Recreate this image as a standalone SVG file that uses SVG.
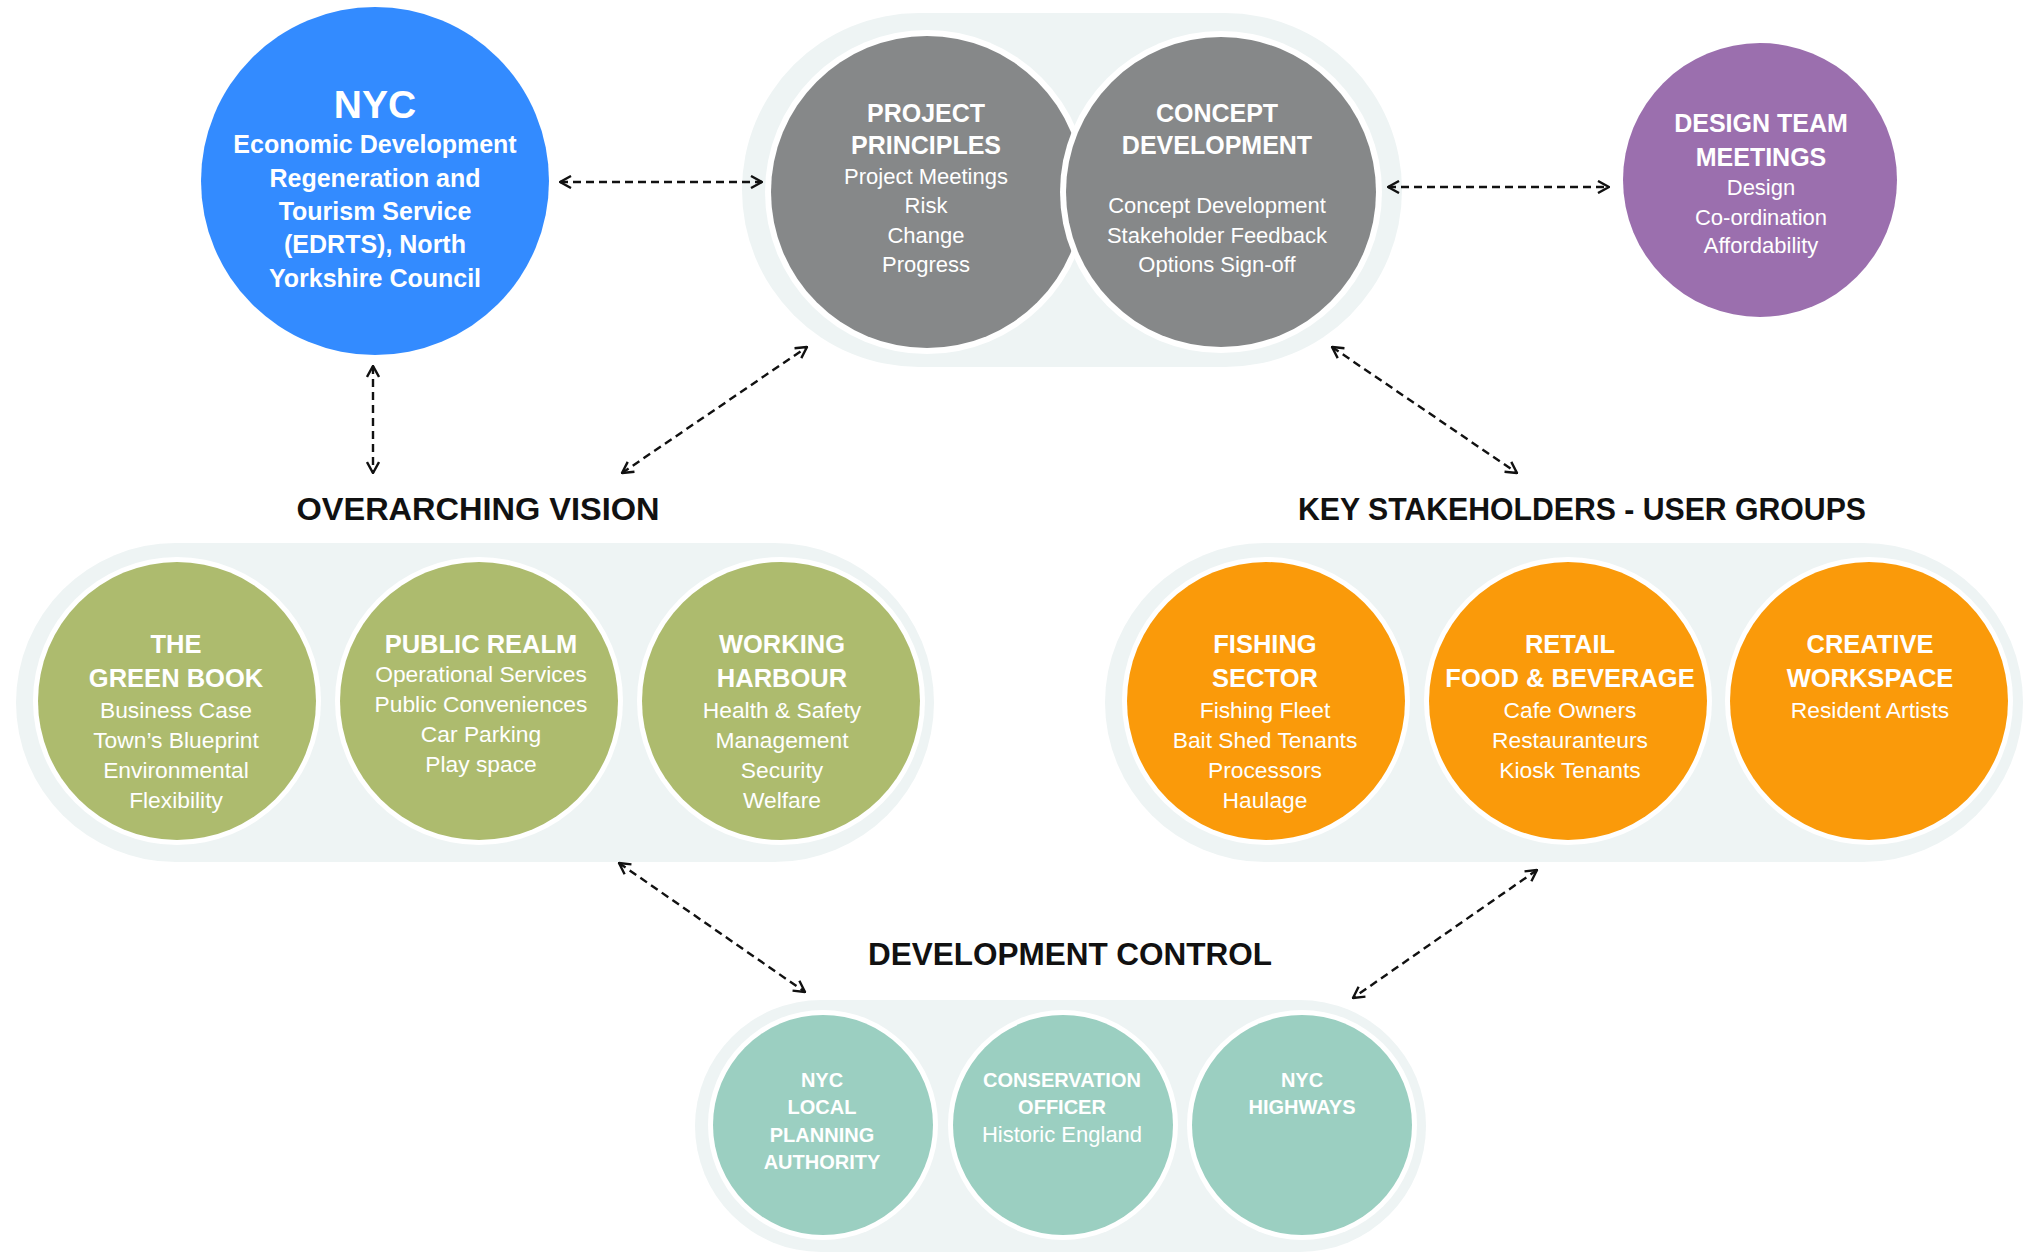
<svg xmlns="http://www.w3.org/2000/svg" width="2027" height="1252" viewBox="0 0 2027 1252">
<style>
text{font-family:"Liberation Sans",Arial,sans-serif;text-anchor:middle;fill:#fff}
.h{font-weight:bold}
.t{font-weight:bold;fill:#111;font-size:31px}
.pill{fill:#eef4f4}
.ring{fill:#fff}
.green{fill:#adbb6e}
.orange{fill:#fa9a0a}
.teal{fill:#9bcfc1}
.gray{fill:#868889}
.con line{stroke:#111;stroke-width:2.4;stroke-dasharray:8 5;marker-start:url(#ah);marker-end:url(#ah)}
.n1{font-size:25px}
.n2{font-size:22px}
.g1{font-size:25.5px}
.g2{font-size:22.8px}
.s1{font-size:20px}
.s2{font-size:22px}
</style>
<defs>
<marker id="ah" viewBox="0 0 14 14" refX="13" refY="7" markerWidth="14" markerHeight="14" markerUnits="userSpaceOnUse" orient="auto-start-reverse">
<path d="M2,1 L13,7 L2,13" fill="none" stroke="#111" stroke-width="2.4"/>
</marker>
</defs>
<rect width="2027" height="1252" fill="#fff"/>

<g id="backgrounds">
<rect class="pill" x="742" y="13" width="660" height="354" rx="177"/>
<rect class="pill" x="16" y="543" width="918" height="319" rx="159.5"/>
<rect class="pill" x="1105" y="543" width="918" height="319" rx="159.5"/>
<rect class="pill" x="695" y="1000" width="731" height="252" rx="126"/>
</g>

<g id="connectors" class="con">
<line x1="560" y1="182" x2="762" y2="182"/>
<line x1="1388" y1="187" x2="1609" y2="187"/>
<line x1="373" y1="366" x2="373" y2="473"/>
<line x1="622" y1="473" x2="807" y2="347"/>
<line x1="1332" y1="347" x2="1517" y2="473"/>
<line x1="619" y1="863" x2="805" y2="992"/>
<line x1="1537" y1="870" x2="1353" y2="998"/>
</g>

<g id="nyc">
<circle cx="375" cy="181" r="174" fill="#338bff"/>
<text class="h" x="375" y="118" font-size="39">NYC</text>
<text class="h n1" x="375" y="153">Economic Development</text>
<text class="h n1" x="375" y="187">Regeneration and</text>
<text class="h n1" x="375" y="220">Tourism Service</text>
<text class="h n1" x="375" y="253">(EDRTS), North</text>
<text class="h n1" x="375" y="287">Yorkshire Council</text>
</g>

<g id="project-principles">
<circle class="ring" cx="927" cy="192" r="162"/>
<circle class="gray" cx="927" cy="192" r="156"/>
<text class="h n1" x="926" y="122">PROJECT</text>
<text class="h n1" x="926" y="154">PRINCIPLES</text>
<text class="n2" x="926" y="184">Project Meetings</text>
<text class="n2" x="926" y="213">Risk</text>
<text class="n2" x="926" y="243">Change</text>
<text class="n2" x="926" y="272">Progress</text>
</g>

<g id="concept-development">
<circle class="ring" cx="1221" cy="192" r="161"/>
<circle class="gray" cx="1221" cy="192" r="155"/>
<text class="h n1" x="1217" y="122">CONCEPT</text>
<text class="h n1" x="1217" y="154">DEVELOPMENT</text>
<text class="n2" x="1217" y="213">Concept Development</text>
<text class="n2" x="1217" y="243">Stakeholder Feedback</text>
<text class="n2" x="1217" y="272">Options Sign-off</text>
</g>

<g id="design-team">
<circle cx="1760" cy="180" r="137" fill="#9b6fae"/>
<text class="h n1" x="1761" y="132">DESIGN TEAM</text>
<text class="h n1" x="1761" y="166">MEETINGS</text>
<text class="n2" x="1761" y="195">Design</text>
<text class="n2" x="1761" y="225">Co-ordination</text>
<text class="n2" x="1761" y="253">Affordability</text>
</g>

<g id="overarching-vision">
<text class="t" x="478" y="520" textLength="363" lengthAdjust="spacingAndGlyphs">OVERARCHING VISION</text>
</g>

<g id="green-book">
<circle class="ring" cx="177" cy="701" r="144"/>
<circle class="green" cx="177" cy="701" r="139"/>
<text class="h g1" x="176" y="653">THE</text>
<text class="h g1" x="176" y="687">GREEN BOOK</text>
<text class="g2" x="176" y="718">Business Case</text>
<text class="g2" x="176" y="748">Town’s Blueprint</text>
<text class="g2" x="176" y="778">Environmental</text>
<text class="g2" x="176" y="808">Flexibility</text>
</g>

<g id="public-realm">
<circle class="ring" cx="479" cy="701" r="144"/>
<circle class="green" cx="479" cy="701" r="139"/>
<text class="h g1" x="481" y="653">PUBLIC REALM</text>
<text class="g2" x="481" y="682">Operational Services</text>
<text class="g2" x="481" y="712">Public Conveniences</text>
<text class="g2" x="481" y="742">Car Parking</text>
<text class="g2" x="481" y="772">Play space</text>
</g>

<g id="working-harbour">
<circle class="ring" cx="781" cy="701" r="144"/>
<circle class="green" cx="781" cy="701" r="139"/>
<text class="h g1" x="782" y="653">WORKING</text>
<text class="h g1" x="782" y="687">HARBOUR</text>
<text class="g2" x="782" y="718">Health &amp; Safety</text>
<text class="g2" x="782" y="748">Management</text>
<text class="g2" x="782" y="778">Security</text>
<text class="g2" x="782" y="808">Welfare</text>
</g>

<g id="key-stakeholders">
<text class="t" x="1582" y="520" textLength="568" lengthAdjust="spacingAndGlyphs">KEY STAKEHOLDERS - USER GROUPS</text>
</g>

<g id="fishing-sector">
<circle class="ring" cx="1266" cy="701" r="144"/>
<circle class="orange" cx="1266" cy="701" r="139"/>
<text class="h g1" x="1265" y="653">FISHING</text>
<text class="h g1" x="1265" y="687">SECTOR</text>
<text class="g2" x="1265" y="718">Fishing Fleet</text>
<text class="g2" x="1265" y="748">Bait Shed Tenants</text>
<text class="g2" x="1265" y="778">Processors</text>
<text class="g2" x="1265" y="808">Haulage</text>
</g>

<g id="retail">
<circle class="ring" cx="1568" cy="701" r="144"/>
<circle class="orange" cx="1568" cy="701" r="139"/>
<text class="h g1" x="1570" y="653">RETAIL</text>
<text class="h g1" x="1570" y="687">FOOD &amp; BEVERAGE</text>
<text class="g2" x="1570" y="718">Cafe Owners</text>
<text class="g2" x="1570" y="748">Restauranteurs</text>
<text class="g2" x="1570" y="778">Kiosk Tenants</text>
</g>

<g id="creative-workspace">
<circle class="ring" cx="1869" cy="701" r="144"/>
<circle class="orange" cx="1869" cy="701" r="139"/>
<text class="h g1" x="1870" y="653">CREATIVE</text>
<text class="h g1" x="1870" y="687">WORKSPACE</text>
<text class="g2" x="1870" y="718">Resident Artists</text>
</g>

<g id="development-control">
<text class="t" x="1070" y="965" textLength="404" lengthAdjust="spacingAndGlyphs">DEVELOPMENT CONTROL</text>
</g>

<g id="local-planning">
<circle class="ring" cx="823" cy="1125" r="115"/>
<circle class="teal" cx="823" cy="1125" r="110"/>
<text class="h s1" x="822" y="1087">NYC</text>
<text class="h s1" x="822" y="1114">LOCAL</text>
<text class="h s1" x="822" y="1142">PLANNING</text>
<text class="h s1" x="822" y="1169">AUTHORITY</text>
</g>

<g id="conservation-officer">
<circle class="ring" cx="1063" cy="1125" r="115"/>
<circle class="teal" cx="1063" cy="1125" r="110"/>
<text class="h s1" x="1062" y="1087">CONSERVATION</text>
<text class="h s1" x="1062" y="1114">OFFICER</text>
<text class="s2" x="1062" y="1142">Historic England</text>
</g>

<g id="nyc-highways">
<circle class="ring" cx="1302" cy="1125" r="115"/>
<circle class="teal" cx="1302" cy="1125" r="110"/>
<text class="h s1" x="1302" y="1087">NYC</text>
<text class="h s1" x="1302" y="1114">HIGHWAYS</text>
</g>
</svg>
